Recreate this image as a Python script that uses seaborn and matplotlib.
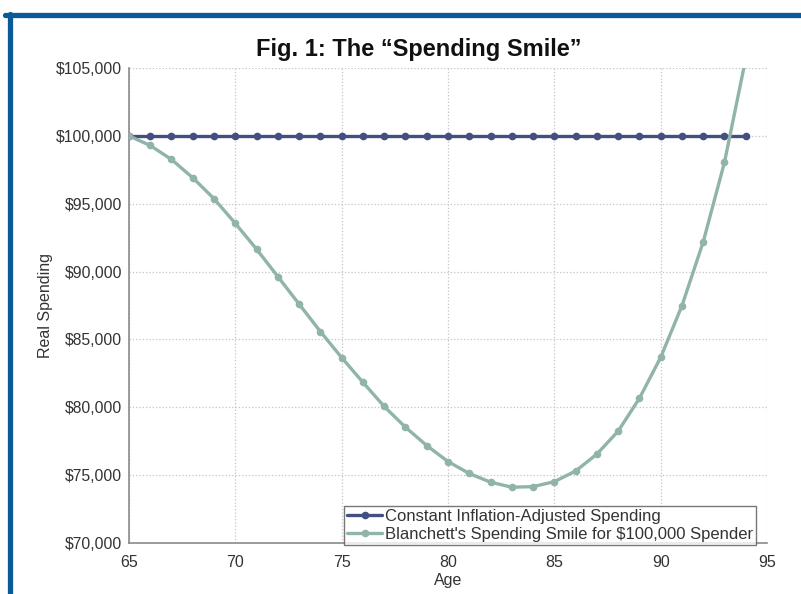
import pandas as pd
import numpy as np
import matplotlib
matplotlib.use("Agg")
import matplotlib.pyplot as plt
from matplotlib.lines import Line2D
from matplotlib.ticker import FuncFormatter
import seaborn as sns

ages = list(range(65, 95))
constant = [100000] * len(ages)
smile = [100000, 99290, 98260, 96910, 95370, 93550, 91650, 89630, 87600, 85580,
         83660, 81840, 80060, 78530, 77180, 76000, 75120, 74480, 74110, 74150,
         74520, 75300, 76550, 78240, 80660, 83680, 87480, 92190, 98060, 105700]

lab_const = "Constant Inflation-Adjusted Spending"
lab_smile = "Blanchett's Spending Smile for $100,000 Spender"

df = pd.DataFrame({
    "Age": ages + ages,
    "Real Spending": constant + smile,
    "series": [lab_const] * len(ages) + [lab_smile] * len(ages),
})

sns.set_style("white")
plt.rcParams["font.family"] = ["Liberation Sans", "DejaVu Sans"]

fig = plt.figure(figsize=(8.01, 5.94), dpi=100)
ax = fig.add_axes([0.161, 0.0859, 0.7966, 0.7996])

pal = {lab_const: "#434f80", lab_smile: "#90b4aa"}
sns.lineplot(data=df, x="Age", y="Real Spending", hue="series", palette=pal,
             marker="o", markersize=5.5, markeredgewidth=0, linewidth=2.4,
             dashes=False, ax=ax, zorder=3)

ax.set_xlim(65, 95)
ax.set_ylim(70000, 105000)
ax.set_xticks(range(65, 96, 5))
ax.set_yticks(range(70000, 105001, 5000))
ax.yaxis.set_major_formatter(FuncFormatter(lambda v, p: f"${v:,.0f}"))
ax.grid(True, linestyle=":", color="#c4c4c4", linewidth=0.9)

for s in ["top", "right"]:
    ax.spines[s].set_visible(False)
for s in ["left", "bottom"]:
    ax.spines[s].set_color("#8a8a8a")
    ax.spines[s].set_linewidth(1.2)
ax.tick_params(axis="x", labelsize=11.5, labelcolor="#333333", color="#8a8a8a",
               length=4, width=0.9, direction="in", pad=9)
ax.tick_params(axis="y", labelsize=11.3, labelcolor="#333333", color="#8a8a8a",
               length=3, width=0.9, direction="out", pad=2)

ax.set_xlabel("Age", fontsize=11.5, color="#333333", labelpad=2)
ax.set_ylabel("Real Spending", fontsize=11.5, color="#333333", labelpad=2)

leg = ax.legend(loc="lower right", bbox_to_anchor=(0.983, -0.004), borderaxespad=0,
                fontsize=12, frameon=True, fancybox=False, handlelength=2.1,
                handletextpad=0.15, labelspacing=0.15, borderpad=0.2)
leg.get_frame().set_edgecolor("#555555")
leg.get_frame().set_linewidth(1.0)
for t in leg.get_texts():
    t.set_color("#333333")

fig.text(0.523, 0.9057, "Fig. 1: The \u201cSpending Smile\u201d", ha="center",
         va="baseline", fontsize=17, fontweight="bold", color="#111111")

# blue frame at top and left
fig.add_artist(Line2D([0.006, 1.0], [0.9745, 0.9745], color="#0b5a98",
                      linewidth=3.8, transform=fig.transFigure))
fig.add_artist(Line2D([0.0119, 0.0119], [0.0, 0.977], color="#0b5a98",
                      linewidth=3.8, transform=fig.transFigure))

fig.savefig("out.png", dpi=100)
